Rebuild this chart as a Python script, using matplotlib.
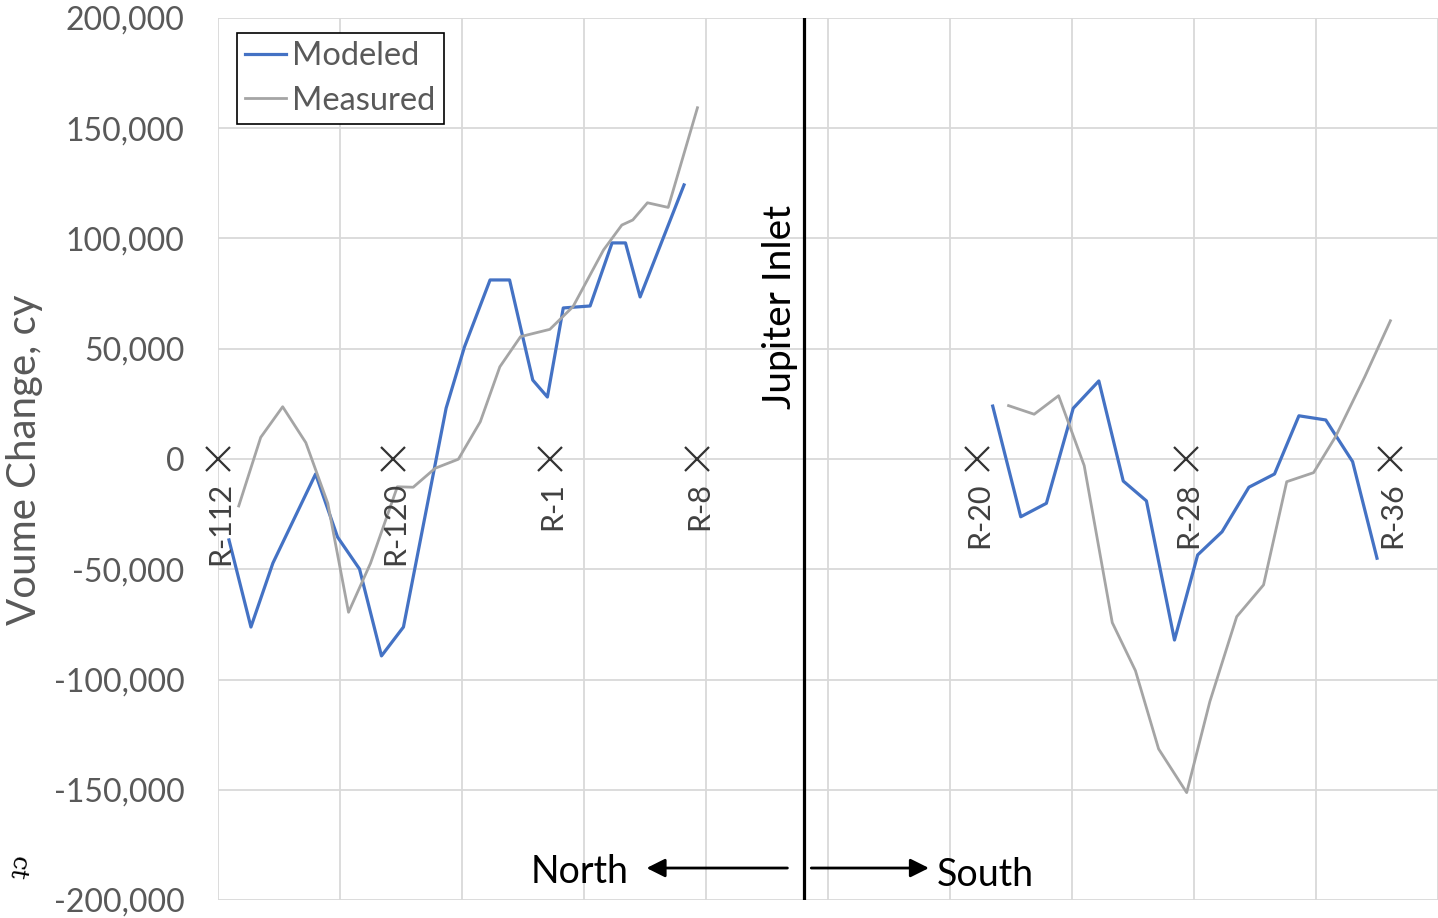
import matplotlib.pyplot as plt
from matplotlib.ticker import FuncFormatter

plt.rcParams['font.family'] = ['Lato', 'DejaVu Sans']

# profile positions (grid units along the shore) and volume change, cy
modeled_north_x = [0.09, 0.27, 0.45, 0.80, 0.98, 1.16, 1.34, 1.52, 1.87, 2.02, 2.23, 2.39, 2.58, 2.70, 2.83, 3.05, 3.23, 3.34, 3.46, 3.82]
modeled_north = [-36700, -76200, -47200, -6800, -35400, -49900, -89300, -76200, 23100, 50800, 81200, 81200, 35800, 28100, 68500, 69400, 98000, 98000, 73500, 124300]
measured_north_x = [0.17, 0.35, 0.53, 0.72, 0.90, 1.07, 1.25, 1.47, 1.60, 1.78, 1.97, 2.15, 2.31, 2.48, 2.72, 2.91, 3.16, 3.31, 3.40, 3.52, 3.69, 3.93]
measured_north = [-21300, 9800, 23700, 7400, -20100, -69500, -47300, -12600, -12800, -4200, -100, 16900, 41800, 55500, 58800, 69100, 94800, 106100, 108400, 116200, 114100, 159300]

modeled_south_x = [6.35, 6.58, 6.79, 7.01, 7.22, 7.42, 7.61, 7.84, 8.03, 8.23, 8.45, 8.66, 8.86, 9.08, 9.30, 9.50]
modeled_south = [24000, -26200, -20100, 23000, 35400, -10000, -19000, -82100, -43500, -33000, -12800, -6800, 19600, 17700, -1200, -45000]
measured_south_x = [6.48, 6.69, 6.89, 7.10, 7.33, 7.52, 7.71, 7.94, 8.13, 8.35, 8.57, 8.76, 8.98, 9.16, 9.40, 9.61]
measured_south = [24200, 20300, 28700, -3000, -74200, -96000, -131500, -151300, -110000, -71500, -57100, -10300, -6200, 10100, 37300, 62700]

monument_names = ['R-112', 'R-120', 'R-1', 'R-8', 'R-20', 'R-28', 'R-36']
monument_x = [0.0, 1.434, 2.721, 3.926, 6.221, 7.934, 9.607]
inlet_x = 4.803

blue = '#4472C4'
gray = '#A5A5A5'

fig = plt.figure(figsize=(14.38, 9.18), dpi=100)
ax = fig.add_axes([218/1438, 18/918, 1220/1438, 882/918])

ax.plot(modeled_north_x, modeled_north, color=blue, lw=2.3, label='Modeled', zorder=3)
ax.plot(measured_north_x, measured_north, color=gray, lw=2.0, label='Measured', zorder=3)
ax.plot(modeled_south_x, modeled_south, color=blue, lw=2.3, zorder=3)
ax.plot(measured_south_x, measured_south, color=gray, lw=2.0, zorder=3)

# monuments
ax.plot(monument_x, [0]*len(monument_x), 'x', color='#333333', ms=17, mew=1.6, clip_on=False, zorder=4)
for name, mx in zip(monument_names, monument_x):
    ax.text(mx + 0.02, -10500, name, rotation=90, ha='center', va='top',
            fontsize=22, color='#404040', zorder=4)

# inlet
ax.axvline(inlet_x, color='black', lw=2.3, zorder=4)
ax.text(inlet_x - 0.2, 69000, 'Jupiter Inlet', rotation=90, ha='center', va='center',
        fontsize=28, color='black')

ax.annotate('', xy=(3.49, -185500), xytext=(4.69, -185500),
            arrowprops=dict(arrowstyle='-|>', color='black', lw=2, mutation_scale=28))
ax.annotate('', xy=(5.85, -185500), xytext=(4.84, -185500),
            arrowprops=dict(arrowstyle='-|>', color='black', lw=2, mutation_scale=28))
ax.text(2.967, -187300, 'North', ha='center', va='center', fontsize=27, color='black')
ax.text(6.29, -188600, 'South', ha='center', va='center', fontsize=27, color='black')

ax.set_xlim(0, 10)
ax.set_ylim(-200000, 200000)
ax.set_xticks(range(0, 11))
ax.set_xticklabels([])
ax.set_yticks(range(-200000, 200001, 50000))
ax.yaxis.set_major_formatter(FuncFormatter(lambda v, p: f'{int(v):,}'))
ax.tick_params(axis='both', length=0, labelsize=23, labelcolor='#595959', pad=24)
ax.grid(True, color='#D9D9D9', lw=1.3, zorder=0)
for s in ax.spines.values():
    s.set_visible(False)

fig.text(25/1438, 0.499, 'Voume Change, cy', rotation=90, ha='center', va='center',
         fontsize=29, color='#595959')
fig.text(0.012, 0.055, 'ct', rotation=-100, ha='center', va='center',
         fontsize=18, family='DejaVu Serif', color='black')

leg = ax.legend(loc='upper left', bbox_to_anchor=(19/1220, 1 - 15/882), borderaxespad=0,
                fontsize=23.5, handlelength=1.25, handletextpad=0.2, labelspacing=0.45,
                borderpad=0.25, fancybox=False, framealpha=1)
leg.get_frame().set_edgecolor('black')
leg.get_frame().set_linewidth(1.2)
for t in leg.get_texts():
    t.set_color('#595959')

fig.savefig('out.png', dpi=100)
